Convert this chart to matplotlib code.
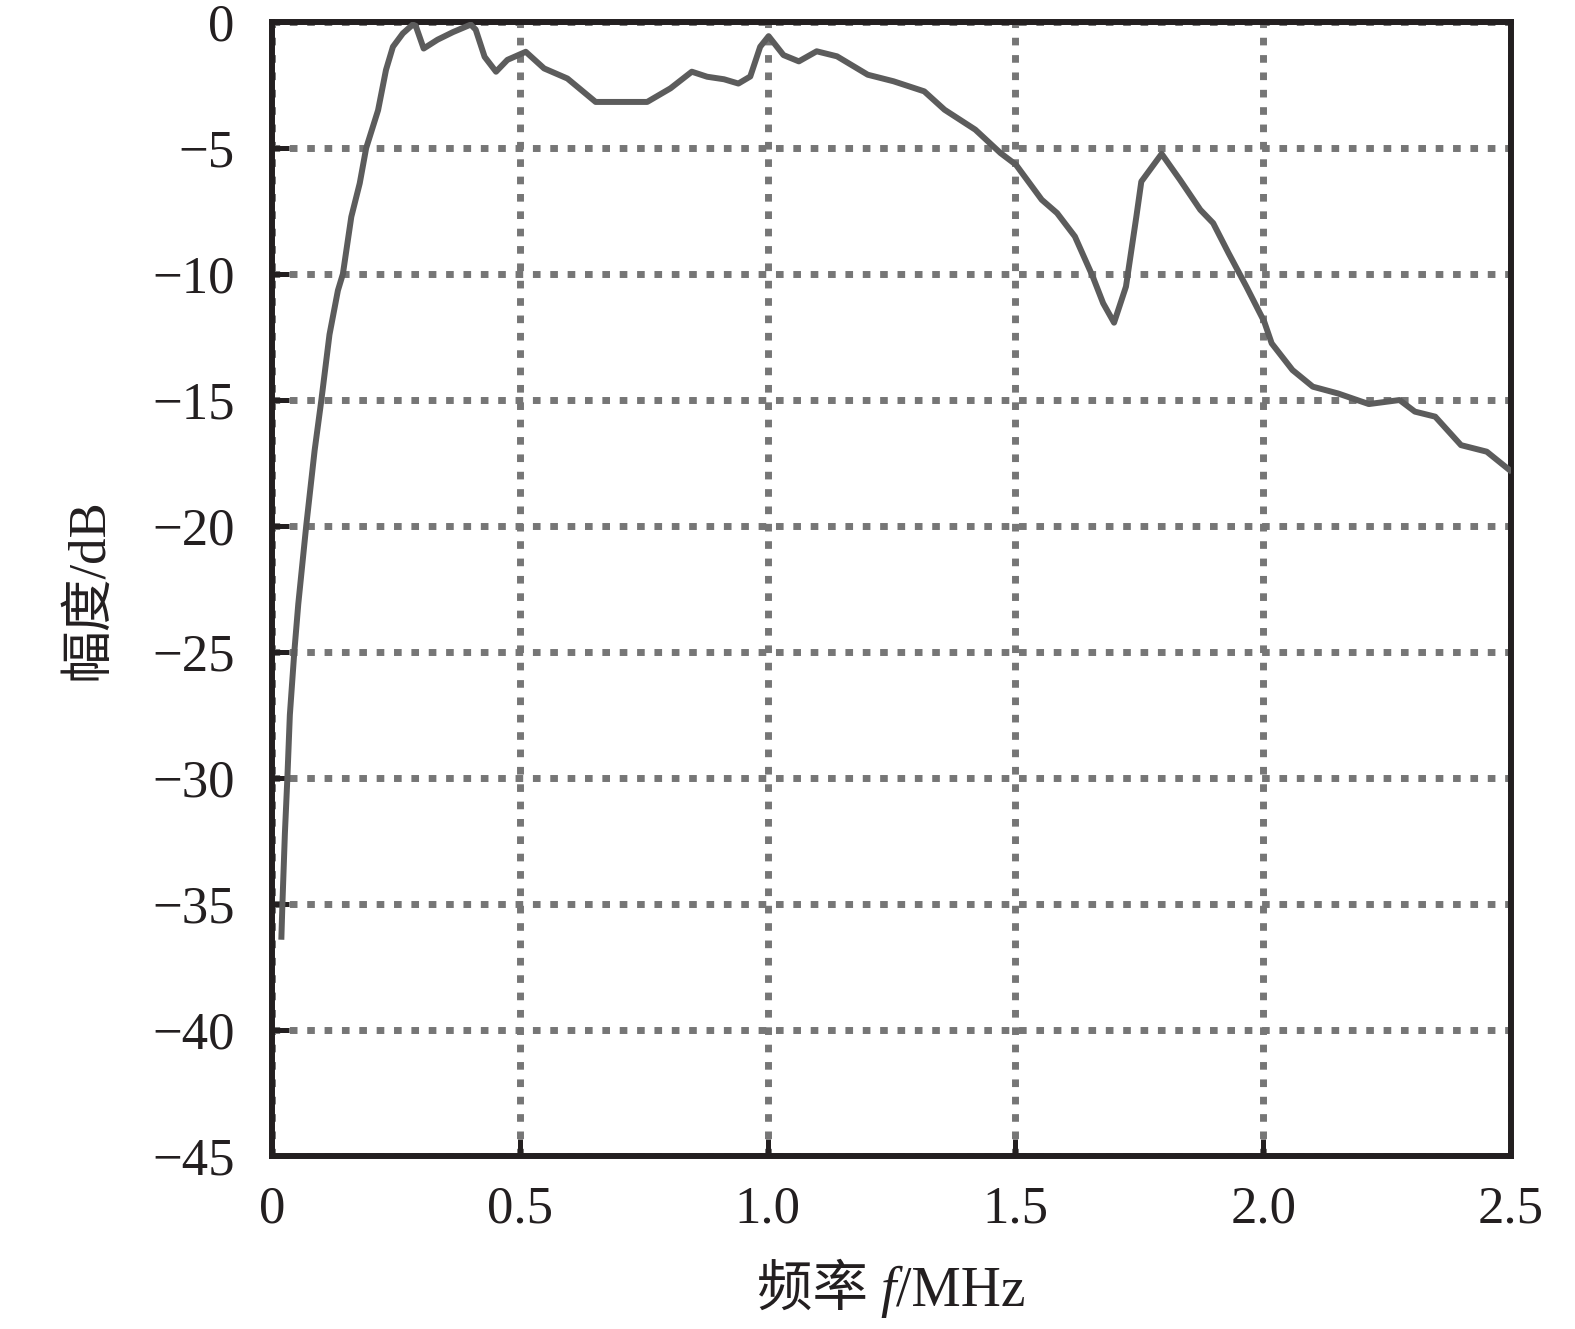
import numpy as np
import matplotlib
matplotlib.use("Agg")
import matplotlib.pyplot as plt
from matplotlib.offsetbox import TextArea, HPacker, AnchoredOffsetbox

# ----------------------------------------------------------------------------------------------------------------------
# data (frequency in MHz, amplitude in dB)
# ----------------------------------------------------------------------------------------------------------------------

freq = [0.019, 0.021, 0.026, 0.031, 0.036, 0.045, 0.053, 0.069, 0.086, 0.0996,
        0.116, 0.133, 0.143, 0.160, 0.177, 0.190, 0.214, 0.230, 0.244, 0.264,
        0.284, 0.290, 0.306, 0.334, 0.365, 0.401, 0.411, 0.429, 0.452, 0.475,
        0.512, 0.549, 0.596, 0.653, 0.757, 0.804, 0.847, 0.878, 0.912, 0.941,
        0.965, 0.985, 1.002, 1.032, 1.063, 1.099, 1.140, 1.202, 1.254, 1.316,
        1.357, 1.419, 1.470, 1.501, 1.553, 1.584, 1.620, 1.656, 1.677, 1.699,
        1.723, 1.744, 1.754, 1.795, 1.832, 1.873, 1.899, 1.930, 1.966, 2.002,
        2.017, 2.059, 2.100, 2.151, 2.213, 2.275, 2.306, 2.347, 2.399, 2.451,
        2.497]
amp = [-36.3, -35.0, -32.2, -30.0, -27.5, -25.0, -23.1, -20.0, -17.0, -15.0,
       -12.4, -10.65, -10.0, -7.73, -6.4, -5.0, -3.5, -1.9, -0.98, -0.45,
       -0.1, -0.15, -1.05, -0.7, -0.4, -0.1, -0.3, -1.38, -1.97, -1.5,
       -1.18, -1.84, -2.24, -3.17, -3.17, -2.63, -1.97, -2.17, -2.27, -2.44,
       -2.16, -0.98, -0.56, -1.31, -1.56, -1.16, -1.36, -2.09, -2.35, -2.75,
       -3.48, -4.27, -5.2, -5.66, -7.05, -7.58, -8.51, -10.1, -11.16, -11.93,
       -10.5, -7.72, -6.33, -5.23, -6.26, -7.45, -7.98, -9.17, -10.5, -11.89,
       -12.75, -13.81, -14.47, -14.74, -15.16, -15.0, -15.46, -15.66, -16.79, -17.05,
       -17.78]

xticks = [0, 0.5, 1.0, 1.5, 2.0, 2.5]
xticklabels = ['0', '0.5', '1.0', '1.5', '2.0', '2.5']
yticks = [0, -5, -10, -15, -20, -25, -30, -35, -40, -45]
yticklabels = ['0'] + ['\u2212' + str(-v) for v in yticks[1:]]

# ----------------------------------------------------------------------------------------------------------------------
# fonts
# ----------------------------------------------------------------------------------------------------------------------

plt.rcParams['font.family'] = ['Liberation Serif', 'Noto Sans CJK SC']
ink = '#231f20'

fig = plt.figure(figsize=(15.75, 13.29), dpi=100)
ax = fig.add_axes([0.1727, 0.1302, 0.9594 - 0.1727, 0.9834 - 0.1302])

ax.plot(freq, amp, color='#5c5c5c', linewidth=4.3, solid_joinstyle='round', zorder=3)

ax.set_xlim(0, 2.5)
ax.set_ylim(-45, 0)
ax.set_xticks(xticks)
ax.set_xticklabels(xticklabels)
ax.set_yticks(yticks)
ax.set_yticklabels(yticklabels)

ax.grid(True, color='#767676', linewidth=5, linestyle=(0, (1.1, 1.4)))
ax.set_axisbelow(True)

for s in ax.spines.values():
    s.set_linewidth(4.3)
    s.set_color(ink)

ax.tick_params(axis='both', direction='in', length=12, width=3.6, color=ink, labelsize=38,
               labelcolor=ink)
ax.tick_params(axis='x', pad=21)
ax.tick_params(axis='y', pad=27)

ax.set_ylabel('幅度/dB', fontsize=38, color=ink, labelpad=28)

# x label: Chinese, italic f, then unit
parts = [TextArea('频率 ', textprops=dict(family='Noto Sans CJK SC', size=40, color=ink)),
         TextArea('f', textprops=dict(family='Liberation Serif', style='italic', size=40, color=ink)),
         TextArea('/MHz', textprops=dict(family='Liberation Serif', size=40, color=ink))]
box = HPacker(children=parts, align='baseline', pad=0, sep=0)
anchored = AnchoredOffsetbox(loc='center', child=box, frameon=False, pad=0, borderpad=0,
                             bbox_to_anchor=(0.566, 1 - 1290 / 1329), bbox_transform=fig.transFigure)
fig.add_artist(anchored)

fig.savefig('out.png', dpi=100)
